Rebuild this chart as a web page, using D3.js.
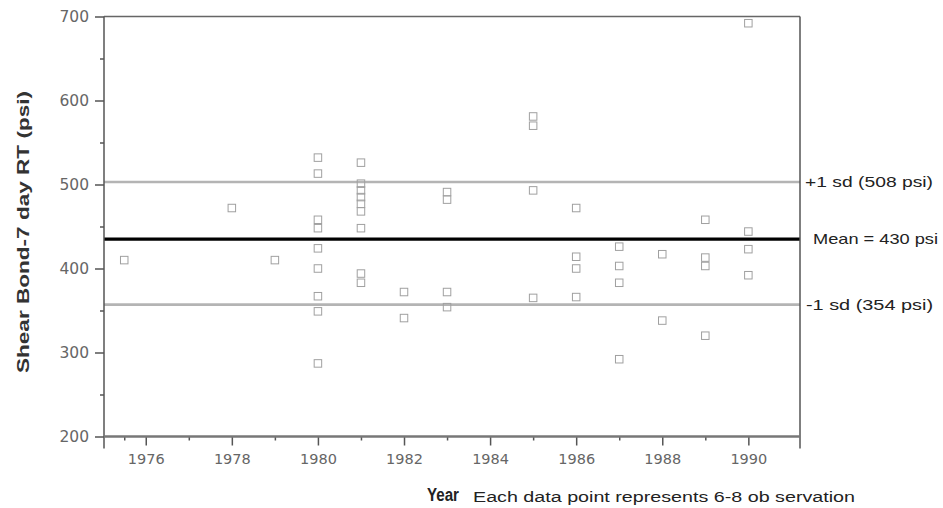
<!DOCTYPE html>
<html>
<head>
<meta charset="utf-8">
<script src="https://cdn.jsdelivr.net/npm/d3@7"></script>
<style>
  html, body { margin: 0; padding: 0; background: #fff; }
  svg { display: block; }
</style>
</head>
<body>
<svg id="chart" width="943" height="508"></svg>
<script>
// ---- Data ----
const pointYears = [
  1975.5, 1978, 1979,
  1980, 1980, 1980, 1980, 1980, 1980, 1980, 1980, 1980,
  1981, 1981, 1981, 1981, 1981, 1981, 1981, 1981, 1981,
  1982, 1982,
  1983, 1983, 1983, 1983,
  1985, 1985, 1985, 1985,
  1986, 1986, 1986, 1986,
  1987, 1987, 1987, 1987,
  1988, 1988,
  1989, 1989, 1989, 1989,
  1990, 1990, 1990, 1990
];
const pointValues = [
  410, 472, 410,
  532, 513, 458, 448, 424, 400, 367, 349, 287,
  526, 501, 493, 485, 477, 468, 448, 394, 383,
  372, 341,
  491, 482, 372, 354,
  581, 570, 493, 365,
  472, 414, 400, 366,
  426, 403, 383, 292,
  417, 338,
  458, 413, 403, 320,
  692, 444, 423, 392
];
const majorYearTicks = [1976, 1978, 1980, 1982, 1984, 1986, 1988, 1990];
const minorYearTicks = [1975.5, 1977, 1979, 1981, 1983, 1985, 1987, 1989];
const majorValueTicks = [200, 300, 400, 500, 600, 700];
const minorValueTicks = [250, 350, 450, 550, 650];
const refLineValues = [503, 435, 357];
const refLineLabels = ["+1 sd (508 psi)", "Mean = 430 psi", "-1 sd (354 psi)"];
const refLineKinds = ["sd", "mean", "sd"];

// ---- Layout ----
const svg = d3.select("#chart");
const pL = 104, pR = 800, pT = 16.5, pB = 436.5;
const sansFont = "'Liberation Sans', Arial, sans-serif";
const tickFont = "'DejaVu Sans', sans-serif";

const x = d3.scaleLinear().domain([1975.03, 1991.2]).range([pL, pR]);
const y = d3.scaleLinear().domain([200, 700]).range([pB, pT]);

// reference lines
const refs = refLineValues.map((v, i) => ({ v, label: refLineLabels[i], kind: refLineKinds[i] }));
svg.append("g").selectAll("line").data(refs).join("line")
  .attr("x1", pL).attr("x2", pR)
  .attr("y1", d => y(d.v)).attr("y2", d => y(d.v))
  .attr("stroke", d => d.kind === "mean" ? "#000" : "#b4b4b4")
  .attr("stroke-width", d => d.kind === "mean" ? 3.4 : 2.6);

// frame (top and right)
svg.append("line").attr("x1", pL).attr("x2", pR).attr("y1", pT).attr("y2", pT)
  .attr("stroke", "#666").attr("stroke-width", 1.5);
svg.append("line").attr("x1", pR).attr("x2", pR).attr("y1", pT).attr("y2", pB + 12)
  .attr("stroke", "#555").attr("stroke-width", 1.5);

// y axis
const yAxisMajor = svg.append("g").attr("transform", `translate(${pL},0)`)
  .call(d3.axisLeft(y).tickValues(majorValueTicks).tickSize(9).tickPadding(6).tickFormat(d3.format("d")));
yAxisMajor.select(".domain").remove();
yAxisMajor.selectAll(".tick line").attr("stroke", "#555").attr("stroke-width", 1.5);
yAxisMajor.selectAll(".tick text")
  .style("font-family", tickFont).style("font-size", "15.5px").attr("fill", "#666");

const yAxisMinor = svg.append("g").attr("transform", `translate(${pL},0)`)
  .call(d3.axisLeft(y).tickValues(minorValueTicks).tickSize(4).tickFormat(""));
yAxisMinor.select(".domain").remove();
yAxisMinor.selectAll(".tick line").attr("stroke", "#555").attr("stroke-width", 1.5);

svg.append("line").attr("x1", pL).attr("x2", pL).attr("y1", pT).attr("y2", pB + 12)
  .attr("stroke", "#555").attr("stroke-width", 1.5);

// x axis
const xAxisMajor = svg.append("g").attr("transform", `translate(0,${pB})`)
  .call(d3.axisBottom(x).tickValues(majorYearTicks).tickSize(9).tickPadding(8).tickFormat(d3.format("d")));
xAxisMajor.select(".domain").remove();
xAxisMajor.selectAll(".tick line").attr("stroke", "#555").attr("stroke-width", 1.5);
xAxisMajor.selectAll(".tick text")
  .style("font-family", tickFont).style("font-size", "14.5px").attr("fill", "#666");

const xAxisMinor = svg.append("g").attr("transform", `translate(0,${pB})`)
  .call(d3.axisBottom(x).tickValues(minorYearTicks).tickSize(4).tickFormat(""));
xAxisMinor.select(".domain").remove();
xAxisMinor.selectAll(".tick line").attr("stroke", "#555").attr("stroke-width", 1.5);

svg.append("line").attr("x1", pL).attr("x2", pR).attr("y1", pB).attr("y2", pB)
  .attr("stroke", "#777").attr("stroke-width", 2.4);

// points
const pts = pointYears.map((yr, i) => ({ yr, v: pointValues[i] }));
const s = 7.5;
svg.append("g").selectAll("rect").data(pts).join("rect")
  .attr("x", d => x(d.yr) - s / 2).attr("y", d => y(d.v) - s / 2)
  .attr("width", s).attr("height", s)
  .attr("fill", "none").attr("stroke", "#a0a0a0").attr("stroke-width", 1);

// reference labels
const labelX = [805, 813, 806];
const labelW = [128, 125, 127];
svg.append("g").selectAll("text").data(refs).join("text")
  .attr("x", (d, i) => labelX[i]).attr("y", d => y(d.v) + 5)
  .style("font-family", sansFont).style("font-size", "15px").attr("fill", "#222")
  .attr("textLength", (d, i) => labelW[i]).attr("lengthAdjust", "spacingAndGlyphs")
  .text(d => d.label);

// y axis title
svg.append("text")
  .attr("transform", "translate(29,232) rotate(-90)")
  .attr("text-anchor", "middle")
  .style("font-family", sansFont).style("font-size", "17px").style("font-weight", "bold").attr("fill", "#333")
  .attr("textLength", 282).attr("lengthAdjust", "spacingAndGlyphs")
  .text("Shear Bond-7 day RT (psi)");

// x axis title + note
svg.append("text").attr("x", 427).attr("y", 501)
  .style("font-family", sansFont).style("font-size", "18px").style("font-weight", "bold").attr("fill", "#222")
  .attr("textLength", 32).attr("lengthAdjust", "spacingAndGlyphs")
  .text("Year");
svg.append("text").attr("x", 473).attr("y", 502)
  .style("font-family", sansFont).style("font-size", "14px").attr("fill", "#222")
  .attr("textLength", 382).attr("lengthAdjust", "spacingAndGlyphs")
  .text("Each data point represents 6-8 ob servation");
</script>
</body>
</html>
